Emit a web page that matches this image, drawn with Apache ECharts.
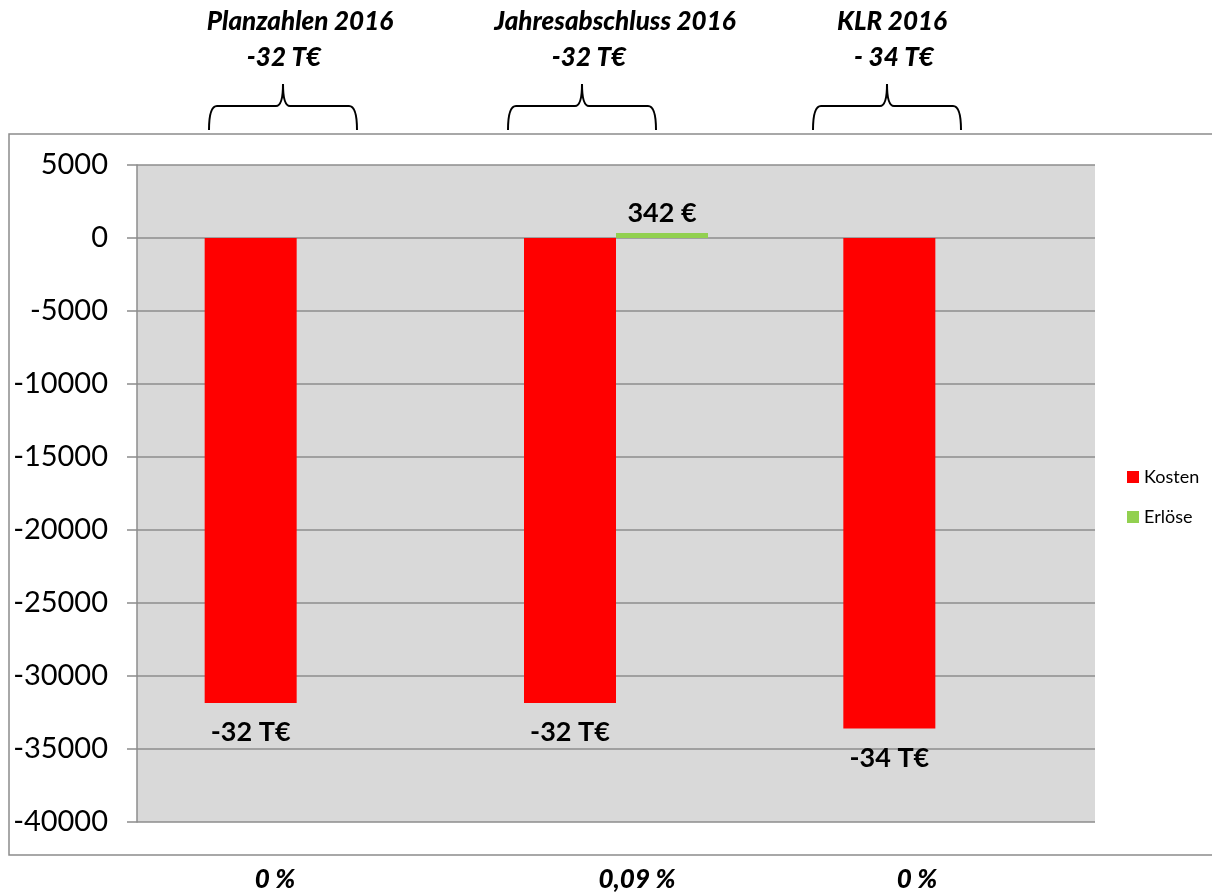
<!DOCTYPE html>
<html>
<head>
<meta charset="utf-8">
<script src="https://cdn.jsdelivr.net/npm/echarts@6/dist/echarts.min.js"></script>
<style>
  html, body { margin: 0; padding: 0; background: #fff; }
  #chart { width: 1212px; height: 893px; }
</style>
</head>
<body>
<div id="chart"></div>
<script>
// Daten
const categories = ["Planzahlen 2016", "Jahresabschluss 2016", "KLR 2016"];
const kosten = [-31850, -31850, -33600];
const erloese = [null, 342, null];
const kostenLabels = ["-32 T€", "-32 T€", "-34 T€"];
const erloeseLabels = ["", "342 €", ""];
const topTitles = ["Planzahlen 2016", "Jahresabschluss 2016", "KLR 2016"];
const topValues = ["-32 T€", "-32 T€", "- 34 T€"];
const bottomLabels = ["0 %", "0,09 %", "0 %"];
const yTicks = [5000, 0, -5000, -10000, -15000, -20000, -25000, -30000, -35000, -40000];

const font = "Lato, 'Open Sans', sans-serif";

// Positionen der Beschriftungen über/unter dem Diagramm
const titleX = [300, 615, 892];
const valueX = [284, 589, 894];
const braceX = [283, 582, 887];
const bottomX = [275, 637, 917];

// geschweifte Klammer
function brace(cx) {
  const w = 74;
  const st = { stroke: "#000", lineWidth: 2, fill: null };
  const curve = (x1, y1, cpx, cpy, x2, y2) => ({
    type: "bezierCurve",
    shape: { x1, y1, x2, y2, cpx1: cpx, cpy1: cpy },
    style: st
  });
  const seg = (x1, x2) => ({ type: "line", shape: { x1, y1: 106, x2, y2: 106 }, style: st });
  return {
    type: "group",
    children: [
      curve(cx - w, 130, cx - w, 106, cx - w + 8, 106),
      seg(cx - w + 8, cx - 7),
      curve(cx - 7, 106, cx, 106, cx, 84),
      curve(cx, 84, cx, 106, cx + 7, 106),
      seg(cx + 7, cx + w - 8),
      curve(cx + w - 8, 106, cx + w, 106, cx + w, 130)
    ]
  };
}

const textEl = (t, x, y) => ({
  type: "text",
  x, y,
  style: {
    text: t, align: "center", verticalAlign: "middle",
    font: "italic 900 26px " + font, fill: "#000"
  }
});

const chart = echarts.init(document.getElementById("chart"));
chart.setOption({
  animation: false,
  backgroundColor: "#fff",
  grid: {
    left: 137, right: 117, top: 165, bottom: 71,
    show: true, backgroundColor: "#d9d9d9", borderWidth: 0
  },
  legend: {
    orient: "vertical",
    left: 1122, top: 463,
    itemWidth: 12, itemHeight: 12, itemGap: 22,
    icon: "rect",
    textStyle: { fontFamily: font, fontSize: 18, color: "#000" },
    data: ["Kosten", "Erlöse"]
  },
  xAxis: {
    type: "category",
    data: categories,
    axisLine: { show: false },
    axisTick: { show: false },
    axisLabel: { show: false }
  },
  yAxis: {
    type: "value",
    min: -40000, max: 5000, interval: 5000,
    axisLine: { show: true, lineStyle: { color: "#8c8c8c", width: 1.5 } },
    axisTick: { show: true, length: 10, lineStyle: { color: "#8c8c8c", width: 1.5 } },
    splitLine: { lineStyle: { color: "#8c8c8c", width: 1.5 } },
    axisLabel: {
      margin: 29,
      fontFamily: font, fontSize: 29, color: "#000",
      formatter: v => (yTicks.includes(v) ? String(v) : "")
    }
  },
  series: [
    {
      name: "Kosten",
      type: "bar",
      data: kosten,
      barWidth: 92,
      barGap: "0%",
      itemStyle: { color: "#ff0000" },
      label: {
        show: true, position: "bottom", distance: 16,
        fontFamily: font, fontSize: 27, fontWeight: "bold", color: "#000",
        formatter: p => kostenLabels[p.dataIndex]
      }
    },
    {
      name: "Erlöse",
      type: "bar",
      data: erloese,
      barWidth: 92,
      itemStyle: { color: "#92d050" },
      label: {
        show: true, position: "top", distance: 6,
        fontFamily: font, fontSize: 27, fontWeight: "bold", color: "#000",
        formatter: p => erloeseLabels[p.dataIndex]
      }
    }
  ],
  graphic: [
    {
      type: "rect",
      shape: { x: 9, y: 134, width: 1230, height: 721 },
      style: { fill: null, stroke: "#8c8c8c", lineWidth: 1.5 },
      z: -1
    },
    ...topTitles.map((t, i) => textEl(t, titleX[i], 22)),
    ...topValues.map((t, i) => textEl(t, valueX[i], 58)),
    ...braceX.map(cx => brace(cx)),
    ...bottomLabels.map((t, i) => textEl(t, bottomX[i], 880))
  ]
});
</script>
</body>
</html>
